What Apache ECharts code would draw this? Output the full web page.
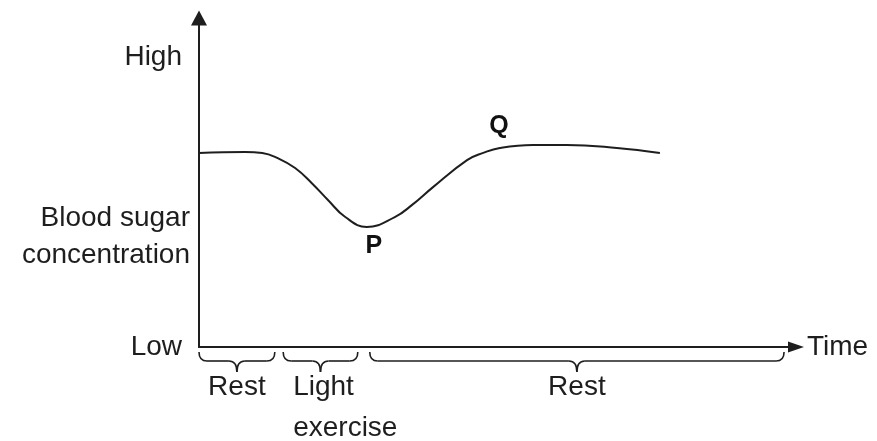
<!DOCTYPE html>
<html>
<head>
<meta charset="UTF-8">
<title>Blood sugar concentration</title>
<script src="https://cdn.jsdelivr.net/npm/echarts@6/dist/echarts.min.js"></script>
</head>
<body style="margin:0; background:#fff;">
<div id="main" style="width:877px; height:441px;"></div>
<script>
// curve (time and concentration both on a 0-100 scale)
var curveX = [0, 7.7, 10.6, 13.2, 16.1, 18.9, 21.6, 24.5, 28.1, 32.8, 35.7, 39.2, 44.9, 47.6, 50.4, 55.9, 61.6, 70.0, 77.2];
var curveY = [59.0, 59.3, 59.0, 57.4, 54.4, 49.8, 44.7, 39.5, 36.5, 39.5, 43.2, 48.6, 56.8, 59.0, 60.5, 61.4, 61.4, 60.5, 59.0];

// labelled points on the curve
var pointNames = ['P', 'Q'];
var pointX = [28.1, 50.1];
var pointY = [36.5, 60.4];

// phases under the time axis
var phaseNames = ['Rest', 'Light\nexercise', 'Rest'];
var phaseStart = [0, 14.1, 28.6];
var phaseEnd = [12.7, 26.6, 98.0];

// y axis labels (the axis title sits between Low and High)
var yTickValues = [0, 33.4, 88];
var yTickLabels = ['Low', 'Blood sugar\nconcentration', 'High'];

var FONT = '"Liberation Sans", Arial, sans-serif';
var INK = '#1e1e1e';

var chart = echarts.init(document.getElementById('main'));

// a curly brace under the axis from start to end, with its label
function renderBrace(params, api) {
    var i = params.dataIndex;
    var p0 = api.coord([api.value(0), 0]);
    var p1 = api.coord([api.value(1), 0]);
    var x0 = p0[0], x1 = p1[0], base = p0[1];
    var xm = (x0 + x1) / 2;
    var yTop = base + 5, yMid = base + 14, yTip = base + 25;
    var st = { stroke: INK, lineWidth: 1.6, fill: null };
    var multi = phaseNames[i].indexOf('\n') >= 0;
    return {
        type: 'group',
        children: [
            { type: 'bezierCurve', shape: { x1: x0, y1: yTop, cpx1: x0, cpy1: yMid, x2: x0 + 8, y2: yMid }, style: st },
            { type: 'line', shape: { x1: x0 + 8, y1: yMid, x2: xm - 8, y2: yMid }, style: st },
            { type: 'bezierCurve', shape: { x1: xm - 8, y1: yMid, cpx1: xm, cpy1: yMid, x2: xm, y2: yTip }, style: st },
            { type: 'bezierCurve', shape: { x1: xm, y1: yTip, cpx1: xm, cpy1: yMid, x2: xm + 8, y2: yMid }, style: st },
            { type: 'line', shape: { x1: xm + 8, y1: yMid, x2: x1 - 8, y2: yMid }, style: st },
            { type: 'bezierCurve', shape: { x1: x1 - 8, y1: yMid, cpx1: x1, cpy1: yMid, x2: x1, y2: yTop }, style: st },
            {
                type: 'text',
                x: multi ? x0 + 10 : xm,
                y: base + 20,
                style: {
                    text: phaseNames[i],
                    fill: INK,
                    font: '28px ' + FONT,
                    align: multi ? 'left' : 'center',
                    verticalAlign: 'top',
                    lineHeight: 41
                }
            }
        ]
    };
}

var option = {
    animation: false,
    backgroundColor: '#fff',
    grid: { left: 199, right: 81, top: 18, bottom: 94, outerBoundsMode: 'none' },
    xAxis: {
        type: 'value',
        min: 0,
        max: 100,
        name: 'Time',
        nameLocation: 'end',
        nameGap: 11,
        nameTextStyle: { color: INK, fontSize: 28, fontFamily: FONT, verticalAlign: 'middle' },
        axisLine: { show: true, symbol: ['none', 'triangle'], symbolSize: [11, 16], lineStyle: { color: INK, width: 2 } },
        axisTick: { show: false },
        axisLabel: { show: false },
        splitLine: { show: false }
    },
    yAxis: {
        type: 'value',
        min: 0,
        max: 100,
        axisLine: { show: true, symbol: ['none', 'triangle'], symbolSize: [16, 15], lineStyle: { color: INK, width: 2 } },
        axisTick: { show: false },
        axisLabel: {
            show: true,
            customValues: yTickValues,
            margin: 9,
            color: INK,
            fontSize: 28,
            fontFamily: FONT,
            lineHeight: 37,
            formatter: function (v) {
                var k = yTickValues.indexOf(v);
                if (k < 0) return '';
                return yTickLabels[k].indexOf('\n') >= 0 ? yTickLabels[k] : '{e|' + yTickLabels[k] + '}';
            },
            rich: {
                e: { fontSize: 28, fontFamily: FONT, color: INK, padding: [0, 8, 0, 0] }
            }
        },
        splitLine: { show: false }
    },
    series: [
        {
            type: 'line',
            smooth: 0.45,
            showSymbol: false,
            lineStyle: { color: INK, width: 2 },
            data: curveX.map(function (x, i) { return [x, curveY[i]]; })
        },
        {
            type: 'scatter',
            symbolSize: 1,
            itemStyle: { color: INK, opacity: 1 },
            label: {
                show: true,
                formatter: '{b}',
                color: '#111',
                opacity: 1,
                textBorderWidth: 0,
                textBorderColor: 'transparent',
                fontSize: 25,
                fontWeight: 'bold',
                fontFamily: FONT
            },
            data: pointNames.map(function (n, i) {
                return {
                    name: n,
                    value: [pointX[i], pointY[i]],
                    label: i === 0
                        ? { position: 'bottom', distance: 6, offset: [7, 0] }
                        : { position: 'top', distance: 9, offset: [1, 0] }
                };
            })
        },
        {
            type: 'custom',
            clip: false,
            renderItem: renderBrace,
            encode: { x: [0, 1], y: 2 },
            data: phaseStart.map(function (s, i) { return [s, phaseEnd[i], 0]; })
        }
    ]
};

chart.setOption(option);
</script>
</body>
</html>
